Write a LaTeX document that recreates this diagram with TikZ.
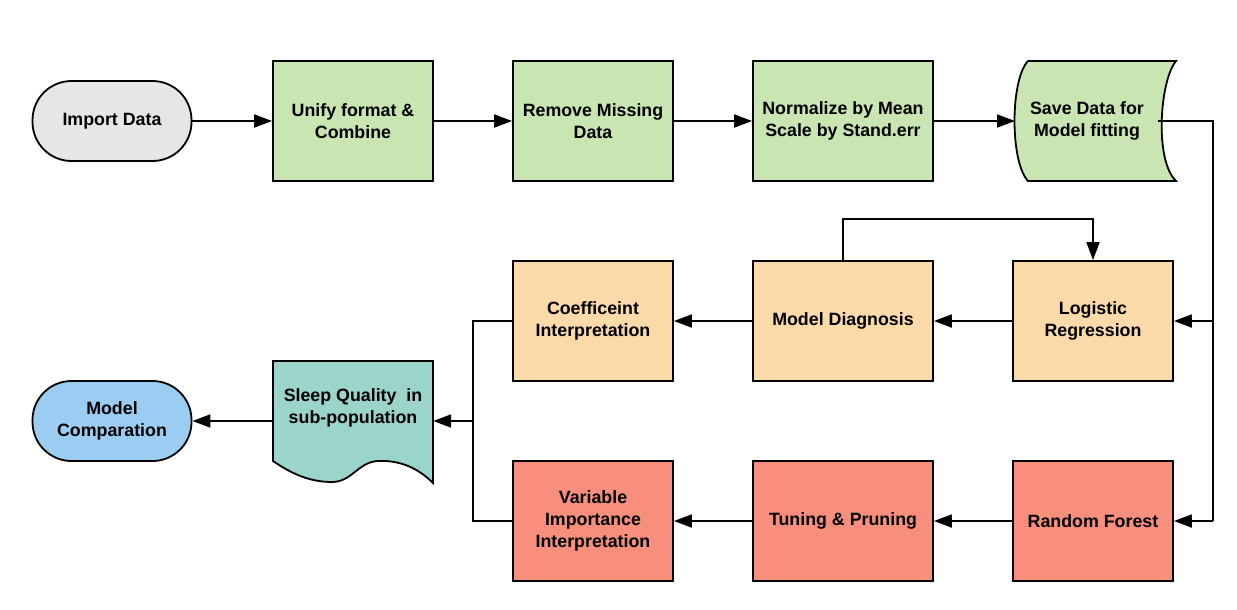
\documentclass[tikz,border=0pt]{standalone}
\usepackage{fontspec}
\setmainfont{Liberation Sans}
\usetikzlibrary{arrows.meta}
\definecolor{startgray}{HTML}{E6E6E6}
\definecolor{prepgreen}{HTML}{C9E6B2}
\definecolor{logitorange}{HTML}{FBDAA9}
\definecolor{forestred}{HTML}{F88E7C}
\definecolor{docteal}{HTML}{9AD4CA}
\definecolor{endblue}{HTML}{9BCDF2}
\begin{document}
\begin{tikzpicture}[x=1pt,y=-1pt,
  txt/.style={align=center,font=\bfseries\fontsize{17.8}{22}\selectfont},
  box/.style={txt,draw,line width=1.8pt,minimum width=160pt,minimum height=120pt},
  wide/.style={box,minimum width=180pt},
  term/.style={txt,draw,line width=1.8pt,rounded corners=39pt,minimum width=159pt,minimum height=80pt},
  arr/.style={line width=1.8pt,-{Triangle[length=18pt,width=13pt]}},
  line/.style={line width=1.8pt}]
  \useasboundingbox (0,0) rectangle (1237,610);
  % top row
  \node[term,fill=startgray] (imp) at (112,121) {Import Data};
  \node[box,fill=prepgreen] (unify) at (353,121) {Unify format \&\\Combine};
  \node[box,fill=prepgreen] (miss) at (593,121) {Remove Missing\\Data};
  \node[wide,fill=prepgreen] (norm) at (843,121) {Normalize by Mean\\Scale by Stand.err};
  \filldraw[line width=1.8pt,fill=prepgreen] (1028,61) -- (1176,61)
    .. controls (1160,80) and (1154,160) .. (1176,181) -- (1028,181)
    .. controls (1010,162) and (1010,80) .. cycle;
  \node[txt,minimum width=142pt] (save) at (1087,121) {Save Data for\\Model fitting};
  % middle and bottom rows
  \node[box,fill=logitorange] (logit) at (1093,321) {Logistic\\Regression};
  \node[wide,fill=logitorange] (diag) at (843,321) {Model Diagnosis};
  \node[box,fill=logitorange] (coef) at (593,321) {Coefficeint\\Interpretation};
  \node[box,fill=forestred] (rf) at (1093,521) {Random Forest};
  \node[wide,fill=forestred] (tune) at (843,521) {Tuning \& Pruning};
  \node[box,fill=forestred] (var) at (593,521) {Variable\\Importance\\Interpretation};
  \filldraw[line width=1.8pt,fill=docteal] (273,361) -- (433,361) -- (433,483)
    .. controls (418,468) and (400,460) .. (378,461)
    .. controls (358,462) and (352,482) .. (332,482)
    .. controls (310,482) and (292,474) .. (273,461) -- cycle;
  \node[txt,minimum width=160pt] (sleep) at (353,408) {Sleep Quality\ \ in\\sub-population};
  \node[term,fill=endblue] (mc) at (112,421) {Model\\Comparation};
  % connectors
  \draw[arr] (imp) -- (unify);
  \draw[arr] (unify) -- (miss);
  \draw[arr] (miss) -- (norm);
  \draw[arr] (norm) -- (norm -| 1015,0);
  \coordinate (rt) at (1213,121);
  \coordinate (rb) at (1213,521);
  \draw[line] (save.east) -- (rt) -- (rb);
  \draw[arr] (rt |- logit) -- (logit);
  \draw[arr] (rb) -- (rf);
  \draw[arr] (logit) -- (diag);
  \draw[arr] (diag) -- (coef);
  \draw[arr] (diag.north) -- ++(0,-41) -| (logit.north);
  \draw[arr] (rf) -- (tune);
  \draw[arr] (tune) -- (var);
  \coordinate (jn) at (473,421);
  \draw[line] (coef.west) -| (jn);
  \draw[line] (var.west) -| (jn);
  \draw[arr] (jn) -- (jn -| sleep.east);
  \draw[arr] (jn -| sleep.west) -- (mc);
\end{tikzpicture}
\end{document}
